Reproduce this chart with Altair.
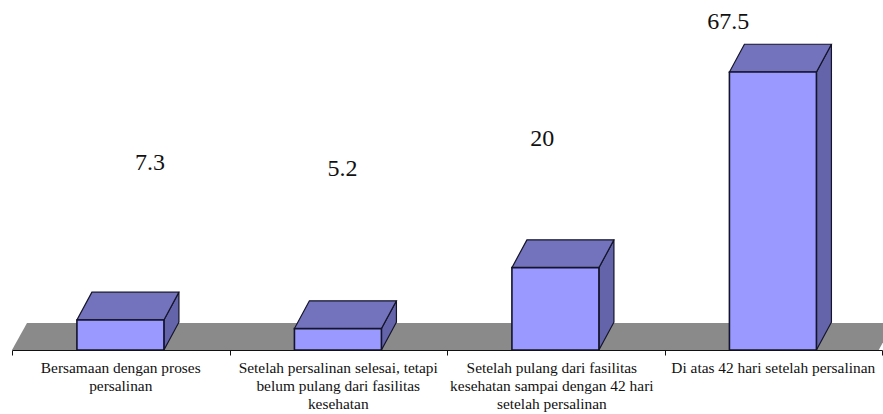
import altair as alt
import pandas as pd

categories = [
    "Bersamaan dengan proses\npersalinan",
    "Setelah persalinan selesai, tetapi\nbelum pulang dari fasilitas\nkesehatan",
    "Setelah pulang dari fasilitas\nkesehatan sampai dengan 42 hari\nsetelah persalinan",
    "Di atas 42 hari setelah persalinan",
]
values = [7.3, 5.2, 20, 67.5]
value_labels = ["7.3", "5.2", "20", "67.5"]

# Pseudo-3D geometry, in axis units
BAR_START = 0.2985
BAR_WIDTH = 0.4
DEPTH_X = 0.069
DEPTH_Y = 6.75
FLOOR_DEPTH = 6.55

# Where each value label floats relative to its bar
label_shift_x = [0.134, 0.02, -0.062, -0.207]
label_lift = [38.1, 38.7, 31.2, 12.1]
# Slight horizontal nudge of the category captions
caption_shift_x = [0, 0, -0.018, 0]

x_scale = alt.Scale(domain=[0, 4], range=[0, 870], nice=False, zero=False)
y_scale = alt.Scale(domain=[0, 85], range=[350, 0], nice=False, zero=False)
no_axis = None
x_axis = alt.Axis(
    values=[0, 1, 2, 3, 4], labels=False, title=None, grid=False, zindex=1,
    domainColor="#111111", tickColor="#111111", tickSize=5, domainWidth=1.2, tickWidth=1,
)
serif = "Liberation Serif"
edge = "#14142a"

x_left = [i + BAR_START for i in range(4)]
x_right = [x + BAR_WIDTH for x in x_left]

front = pd.DataFrame({"x": x_left, "x2": x_right, "v": values})

# Top faces: parallelograms drawn with a horizontal area
top_rows = []
for i, (a, b, v) in enumerate(zip(x_left, x_right, values)):
    top_rows.append({"bar": i, "y": v, "xa": a, "xb": b})
    top_rows.append({"bar": i, "y": v + DEPTH_Y, "xa": a + DEPTH_X, "xb": b + DEPTH_X})
top = pd.DataFrame(top_rows)

# Side faces: parallelograms drawn with a vertical area
side_rows = []
for i, (b, v) in enumerate(zip(x_right, values)):
    side_rows.append({"bar": i, "x": b, "lo": 0, "hi": v})
    side_rows.append({"bar": i, "x": b + DEPTH_X, "lo": DEPTH_Y, "hi": v + DEPTH_Y})
side = pd.DataFrame(side_rows)

floor = pd.DataFrame({"y": [0, FLOOR_DEPTH], "xa": [0, DEPTH_X], "xb": [3.985, 3.985 + DEPTH_X]})

cat_text = pd.DataFrame({
    "x": [i + 0.5 + s for i, s in enumerate(caption_shift_x)],
    "v": [0] * 4,
    "label": categories,
})
val_text = pd.DataFrame({
    "x": [i + 0.5 + s for i, s in enumerate(label_shift_x)],
    "v": [v + l for v, l in zip(values, label_lift)],
    "label": value_labels,
})

floor_layer = alt.Chart(floor).mark_area(orient="horizontal", color="#8a8a8a", clip=False).encode(
    y=alt.Y("y:Q", scale=y_scale, axis=no_axis),
    x=alt.X("xa:Q", scale=x_scale, axis=x_axis),
    x2="xb:Q",
)

side_layer = alt.Chart(side).mark_area(
    orient="vertical", color="#6464aa", stroke=edge, strokeWidth=1.2, clip=False
).encode(
    x=alt.X("x:Q", scale=x_scale, axis=x_axis),
    y=alt.Y("lo:Q", scale=y_scale, axis=no_axis),
    y2="hi:Q",
    detail="bar:N",
)

top_layer = alt.Chart(top).mark_area(
    orient="horizontal", color="#7373bd", stroke=edge, strokeWidth=1.2, clip=False
).encode(
    y=alt.Y("y:Q", scale=y_scale, axis=no_axis),
    x=alt.X("xa:Q", scale=x_scale, axis=x_axis),
    x2="xb:Q",
    detail="bar:N",
)

front_layer = alt.Chart(front).mark_rect(color="#9999ff", stroke=edge, strokeWidth=1.6).encode(
    x=alt.X("x:Q", scale=x_scale, axis=x_axis),
    x2="x2:Q",
    y=alt.Y("v:Q", scale=y_scale, axis=no_axis),
    y2=alt.Y2(datum=0),
)

category_layer = alt.Chart(cat_text).mark_text(
    font=serif, fontSize=15.4, color="#111111", baseline="alphabetic", align="center",
    lineBreak="\n", lineHeight=18, dy=22.5,
).encode(
    x=alt.X("x:Q", scale=x_scale, axis=x_axis),
    y=alt.Y("v:Q", scale=y_scale, axis=no_axis),
    text="label:N",
)

value_layer = alt.Chart(val_text).mark_text(
    font=serif, fontSize=24, color="#111111", baseline="middle", align="center",
).encode(
    x=alt.X("x:Q", scale=x_scale, axis=x_axis),
    y=alt.Y("v:Q", scale=y_scale, axis=no_axis),
    text="label:N",
)

chart = alt.layer(
    floor_layer, side_layer, top_layer, front_layer, category_layer, value_layer
).properties(
    width=870,
    height=350,
    padding={"left": 12, "top": 0, "right": 1, "bottom": 64},
    autosize=alt.AutoSizeParams(type="none"),
    background="white",
).configure_view(stroke=None)

chart.save("out.html", embed_options={"renderer": "svg", "actions": False})
